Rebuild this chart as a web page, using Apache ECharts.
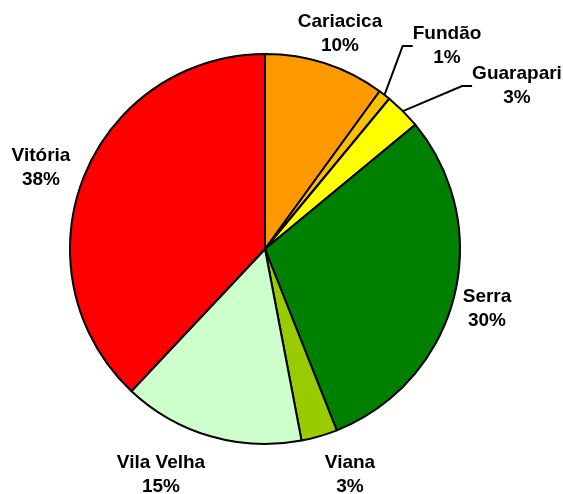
<!DOCTYPE html>
<html>
<head>
<meta charset="utf-8">
<script src="https://cdn.jsdelivr.net/npm/echarts@6/dist/echarts.min.js"></script>
<style>html,body{margin:0;padding:0;background:#fff;}#c{width:563px;height:494px;}</style>
</head>
<body>
<div id="c"></div>
<script>
const categories = ['Cariacica', 'Fundão', 'Guarapari', 'Serra', 'Viana', 'Vila Velha', 'Vitória'];
const values = [10, 1, 3, 30, 3, 15, 38];
const colors = ['#FF9900', '#FFC000', '#FFFF00', '#008000', '#99CC00', '#CCFFCC', '#FF0000'];
const labelPos = [[340, 34], [447, 46], [517, 86], [487, 309], [350, 475], [161, 475], [41, 168]];
const withLine = [false, true, true, false, false, false, false];

const chart = echarts.init(document.getElementById('c'));
chart.setOption({
  animation: false,
  series: [{
    type: 'pie',
    center: [265, 249],
    radius: 195,
    startAngle: 90,
    clockwise: true,
    percentPrecision: 0,
    itemStyle: { borderColor: '#000', borderWidth: 2 },
    label: {
      show: true,
      position: 'outside',
      formatter: '{b}\n{d}%',
      fontFamily: 'Liberation Sans',
      fontWeight: 'bold',
      fontSize: 19,
      lineHeight: 24,
      color: '#000',
      align: 'center',
      overflow: 'none'
    },
    labelLine: { show: true, lineStyle: { color: '#000', width: 2 }, length: 10, length2: 10 },
    labelLayout: function (p) {
      const pos = labelPos[p.dataIndex];
      return { x: pos[0], y: pos[1], align: 'center', verticalAlign: 'middle' };
    },
    emphasis: { disabled: true },
    data: categories.map((n, i) => ({
      name: n,
      value: values[i],
      itemStyle: { color: colors[i] },
      labelLine: { show: withLine[i] }
    }))
  }]
});
</script>
</body>
</html>
